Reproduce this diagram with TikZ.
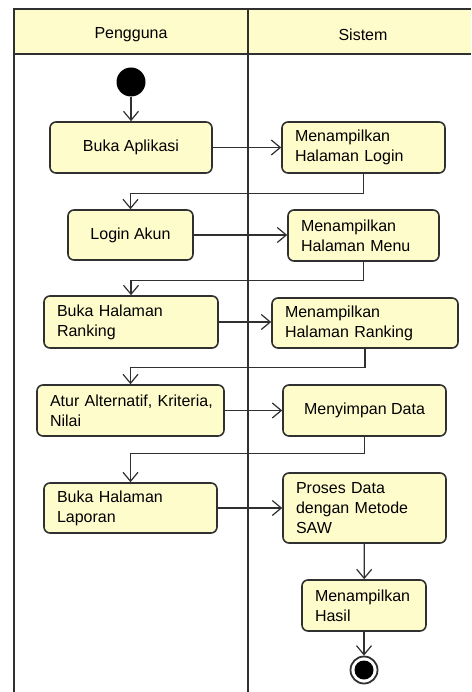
\documentclass[tikz,border=0pt]{standalone}
\usepackage{fontspec}
\setmainfont{Liberation Sans}
\usepackage{tikz}
\usetikzlibrary{arrows.meta}
\definecolor{lemon}{HTML}{FFFCCC}
\definecolor{ink}{HTML}{303030}

\begin{document}
\begin{tikzpicture}[x=1pt, y=-1pt,
				   every node/.style={font=\fontsize{16}{20}\selectfont},
				   act/.style={rectangle, rounded corners=6pt, draw=ink, line width=1.6pt, fill=lemon, inner ysep=2pt},
				   leftact/.style={act, align=left, inner xsep=13pt},
				   midact/.style={act, align=center},
				   flow/.style={draw=ink, line width=1.2pt, -{Straight Barb[length=9pt, width=15pt, line width=1.2pt]}},
				   lane/.style={draw=ink, line width=2.2pt}]
\useasboundingbox (0,0) rectangle (471,692);
\fill[lemon] (14,9) rectangle (471,54);
\draw[lane] (471,9) -- (14,9) -- (14,692);
\draw[lane] (14,54) -- (471,54);
\draw[lane] (248,9) -- (248,692);
\node (pengguna) at (131,35) {Pengguna};
\node (sistem) at (363,35) {Sistem};

\node[circle, fill=black, minimum size=29pt, inner sep=0pt] (start) at (131,82) {};
\node[midact, minimum width=162pt, minimum height=51pt] (aplikasi) at (131,147.5) {Buka Aplikasi};
\node[leftact, text width=137pt, minimum height=51pt] (login) at (363.5,147.5) {Menampilkan\\Halaman Login};
\node[midact, minimum width=125pt, minimum height=50pt] (akun) at (130.5,235) {Login Akun};
\node[leftact, text width=125pt, minimum height=51pt] (menu) at (363.5,235.5) {Menampilkan\\Halaman Menu};
\node[leftact, text width=148pt, minimum height=52pt] (ranking) at (131,322) {Buka Halaman\\Ranking};
\node[leftact, text width=160pt, minimum height=50pt] (hranking) at (365,323) {Menampilkan\\Halaman Ranking};
\node[leftact, text width=161pt, minimum height=51pt] (atur) at (130.5,410.5) {\mbox{Atur Alternatif, Kriteria,}\\Nilai};
\node[midact, minimum width=163pt, minimum height=51pt] (simpan) at (364.5,410.5) {Menyimpan Data};
\node[leftact, text width=147pt, minimum height=50pt] (laporan) at (130.5,508) {Buka Halaman\\Laporan};
\node[leftact, text width=137pt, minimum height=70pt] (saw) at (364.5,508) {Proses Data\\dengan Metode\\SAW};
\node[leftact, text width=98pt, minimum height=51pt] (hasil) at (364,605.5) {Menampilkan\\Hasil};
\node[circle, draw=ink, line width=1.8pt, fill=white, minimum size=27pt, inner sep=0pt] (end) at (364,670) {};
\fill[black] (end.center) circle (9.5pt);

\draw[flow] (start) -- (aplikasi);
\draw[flow] (aplikasi) -- (login);
\draw[flow] (login.south) -- ++(0,20) -| (akun.north);
\draw[flow] (akun) -- (akun -| menu.west);
\draw[flow] (menu.south) -- ++(0,19) -| (ranking.north);
\draw[flow] (ranking) -- (ranking -| hranking.west);
\draw[flow] (hranking.south) -- ++(0,19) -| (atur.north);
\draw[flow] (atur) -- (simpan);
\draw[flow] (simpan.south) -- ++(0,17) -| (laporan.north);
\draw[flow] (laporan) -- (saw);
\draw[flow] (saw) -- (hasil);
\draw[flow] (hasil) -- (end);
\end{tikzpicture}
\end{document}
